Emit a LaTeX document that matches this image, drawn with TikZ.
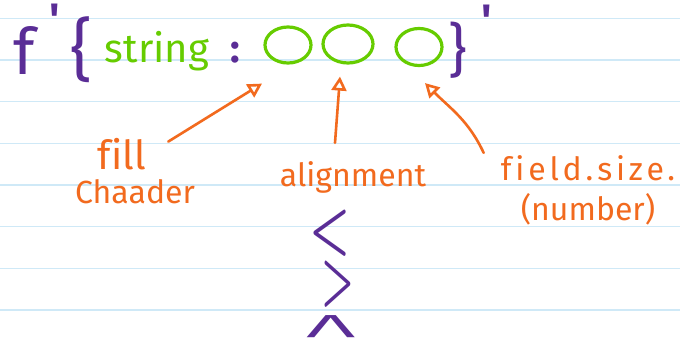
\documentclass[tikz,border=0pt]{standalone}
\usepackage{fontspec}
\setmainfont{Fira Sans}[Ligatures=NoCommon]
\newfontfamily\lmfont{Latin Modern Roman}
\newfontfamily\penmono{Liberation Mono}
\usepackage{xcolor}
\usepackage{tikz}
\usetikzlibrary{shapes.geometric,arrows.meta,positioning,calc}
\definecolor{inkpurple}{HTML}{5A2D96}
\definecolor{inkgreen}{HTML}{66CC00}
\definecolor{inkorange}{HTML}{F26A1E}
\definecolor{paperblue}{HTML}{CFE9F7}

\begin{document}
\begin{tikzpicture}[x=1pt, y=1pt,
    code/.style={inner sep=0pt, text=inkpurple},
    word/.style={inner sep=0pt, text=inkgreen, font=\fontsize{40}{40}\selectfont},
    slot/.style={ellipse, draw=inkgreen, line width=3.2pt, inner sep=0pt},
    note/.style={inner sep=0pt, text=inkorange, font=\fontsize{32}{32}\selectfont},
    chevron/.style={inner sep=0pt, text=inkpurple, font=\lmfont\bfseries\fontsize{46}{46}\selectfont},
    pointer/.style={-{Triangle[open, length=14pt, width=15pt]}, draw=inkorange, line width=2.6pt, line cap=round},
    ruling/.style={draw=paperblue, line width=1.4pt}
]
\useasboundingbox[fill=white] (0,0) rectangle (680,341);

% ruled paper
\draw[ruling] (0,322.7) -- (680,322.7);
\draw[ruling] (0,281) -- (680,281);
\draw[ruling] (0,239.3) -- (680,239.3);
\draw[ruling] (0,197.7) -- (680,197.7);
\draw[ruling] (0,156) -- (680,156);
\draw[ruling] (0,114.3) -- (680,114.3);
\draw[ruling] (0,72.7) -- (680,72.7);
\draw[ruling] (0,31) -- (680,31);

% f-string
\node[code, font=\fontsize{64}{64}\selectfont] (f) at (24,291) {f};
\node[code, font=\bfseries\fontsize{44}{44}\selectfont] (openquote) at (55,322) {\textquotesingle};
\node[code, font=\fontsize{68}{68}\selectfont] (lbrace) at (81,291) {\{};
\node[word, anchor=base] (string) at (157,279) {string};
\node[code, font=\bfseries\fontsize{40}{40}\selectfont, anchor=base] (colon) at (235,279) {:};
\node[slot, minimum width=46pt, minimum height=36pt] (fillslot) at (288,296) {};
\node[slot, minimum width=50pt, minimum height=38pt] (alignslot) at (348,297) {};
\node[slot, minimum width=46pt, minimum height=37pt] (sizeslot) at (419,294) {};
\node[code, font=\fontsize{58}{58}\selectfont] (rbrace) at (458,291) {\}};
\node[code, font=\bfseries\fontsize{44}{44}\selectfont] (closequote) at (487,321) {\textquotesingle};

% labels
\node[note, anchor=base, font=\fontsize{40}{40}\selectfont] (fill) at (122,172) {fill};
\node[note, anchor=base] (character) at (135,138) {Chaader};
\node[note, anchor=base] (alignment) at (353,155) {alignment};
\node[note, anchor=base] (field) at (588,161) {\addfontfeature{LetterSpace=12}field.size.};
\node[note, anchor=base] (number) at (588,121) {(number)};

% alignment options
\node[chevron] (leftalign) at (330,108) {\scalebox{1}[1.5]{\textless}};
\node[chevron] (rightalign) at (338,57) {\scalebox{0.8}[1.5]{\textgreater}};
\node[chevron, font=\penmono\fontsize{50}{50}\selectfont, anchor=base] (centeralign) at (331,-7) {\scalebox{2.05}[1]{\textasciicircum}};

% Arrows
\draw[pointer] ($(fill.north east)+(22,-4)$) -- ($(fillslot.south)+(-26,-19)$);
\draw[pointer] ($(alignment.north)+(-18,18)$) -- ($(alignslot.south)+(-8,-12)$);
\draw[pointer] ($(field.north west)+(-17,2)$) to[out=115, in=-45] ($(sizeslot.south)+(6,-16)$);

\end{tikzpicture}
\end{document}
